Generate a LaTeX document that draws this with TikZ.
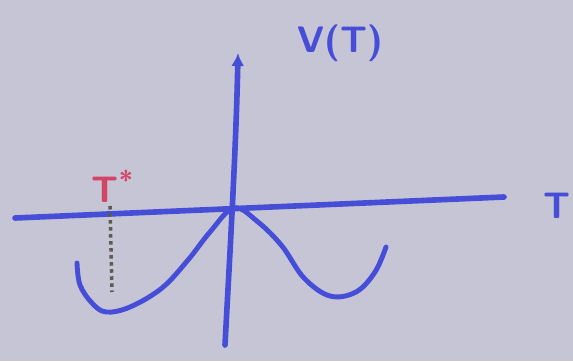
\documentclass[tikz,border=0pt]{standalone}
\usepackage{tikz}
\usetikzlibrary{arrows.meta, positioning, calc}
\definecolor{skBlue}{RGB}{70, 78, 215}
\definecolor{skRed}{RGB}{212, 68, 102}
\definecolor{skPaper}{RGB}{198, 197, 214}
\definecolor{skDot}{RGB}{95, 90, 80}

\begin{document}
\begin{tikzpicture}[x=0.02cm, y=-0.02cm,
    every node/.style={font=\sffamily\bfseries\fontsize{21}{24}\selectfont},
    axisline/.style={draw=skBlue, line width=3.2pt, line cap=round},
    wellcurve/.style={draw=skBlue, line width=2.8pt, line cap=round}]
    % paper
    \fill[skPaper] (0,0) rectangle (573,361);
    \useasboundingbox (0,0) rectangle (573,361);
    % axes
    \coordinate (hleft) at (15,218);
    \coordinate (hright) at (504,197);
    \coordinate (vbot) at (225,345);
    \coordinate (vtop) at (238,53);
    \draw[axisline] (hleft) -- (hright);
    \draw[axisline, -{Latex[length=2.6mm, width=2.6mm]}]
        (vbot) .. controls (230,250) and (236,150) .. (vtop);
    \node[text=skBlue] (vlabel) at (340,43) {V(T)};
    \node[text=skBlue] (tlabel) at (557,206) {T};
    % potential
    \draw[wellcurve] plot[smooth, tension=0.6] coordinates {
        (77,263) (80,285) (92,303) (106,312) (130,307) (162,288)
        (188,260) (210,232) (234,208) (258,222) (282,246) (304,278)
        (330,296) (356,292) (375,272) (386,247)};
    % marked point
    \node[text=skRed, inner sep=1pt] (tstar) at (113,186) {T\textsuperscript{*}};
    \coordinate (ttop) at (110,206);
    \coordinate (tmin) at (112,292);
    \draw[skDot, line width=2pt, dotted] (ttop) -- (tmin);
\end{tikzpicture}
\end{document}
